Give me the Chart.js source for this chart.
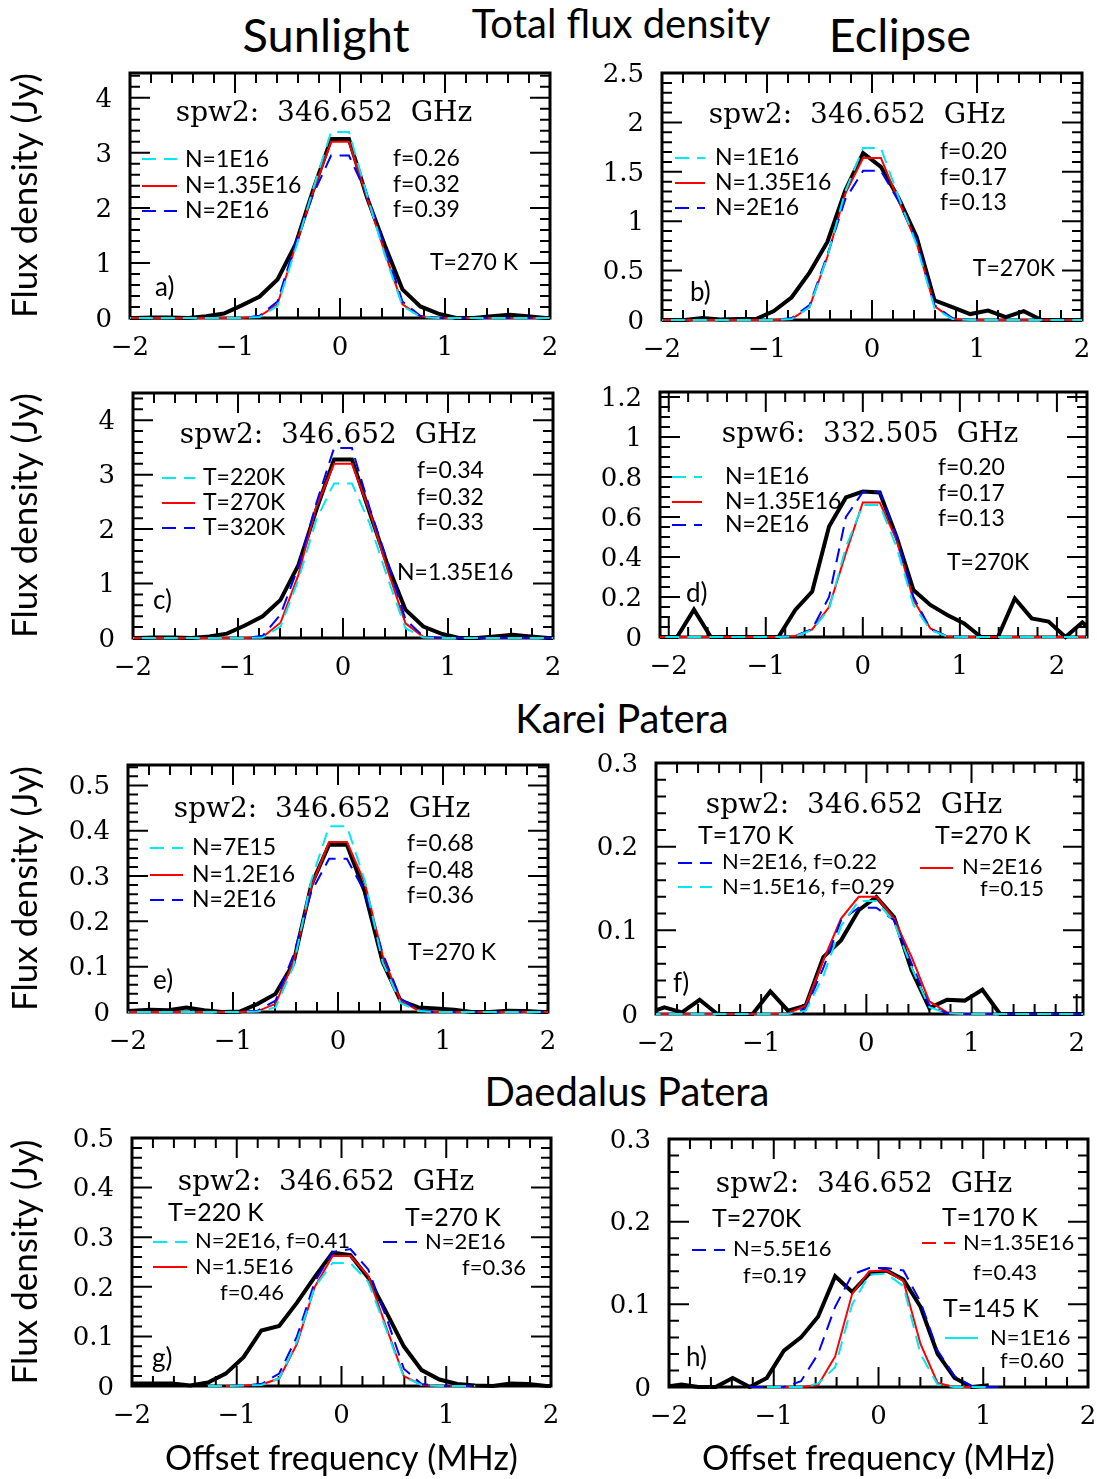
<!DOCTYPE html>
<html>
<head>
<meta charset="utf-8">
<title>Total flux density</title>
<script src="https://cdn.jsdelivr.net/npm/chart.js@4.4.1/dist/chart.umd.min.js"></script>
<style>
  html, body { margin: 0; padding: 0; background: #fff; }
  body { position: relative; width: 1097px; height: 1479px; overflow: hidden; font-family: Lato, "Noto Sans", sans-serif; }
  .head { position: absolute; transform: translate(-50%, -50%); white-space: nowrap; color: #000; line-height: 1; }
  canvas { position: absolute; }
</style>
</head>
<body>
<div class="head" style="left:326px;top:34px;font-size:47px">Sunlight</div>
<div class="head" style="left:621px;top:23px;font-size:40px">Total flux density</div>
<div class="head" style="left:900px;top:34px;font-size:47px">Eclipse</div>
<div class="head" style="left:622px;top:718px;font-size:40px">Karei Patera</div>
<div class="head" style="left:627px;top:1091px;font-size:40px">Daedalus Patera</div>
<script>
const gridHalf = [-2.125, -1.955, -1.785, -1.615, -1.445, -1.275, -1.105, -0.935, -0.765, -0.595, -0.425, -0.255, -0.085,
                  0.085, 0.255, 0.425, 0.595, 0.765, 0.935, 1.105, 1.275, 1.445, 1.615, 1.785, 1.955, 2.125];
const gridD = [-2.262, -2.088, -1.914, -1.74, -1.566, -1.392, -1.218, -1.044, -0.87, -0.696, -0.522, -0.348, -0.174, 0,
               0.174, 0.348, 0.522, 0.696, 0.87, 1.044, 1.218, 1.392, 1.566, 1.74, 1.914, 2.088, 2.262, 2.436];
const gridF = [-2.089, -1.921, -1.753, -1.585, -1.417, -1.249, -1.081, -0.913, -0.745, -0.577, -0.409, -0.241, -0.073,
               0.095, 0.263, 0.431, 0.599, 0.767, 0.935, 1.103, 1.271, 1.439, 1.607, 1.775, 1.943, 2.111];
const gridH = [-2.044, -1.881, -1.718, -1.555, -1.392, -1.229, -1.066, -0.903, -0.74, -0.577, -0.414, -0.251, -0.088,
               0.075, 0.238, 0.401, 0.564, 0.727, 0.89, 1.053, 1.216];

// a) sunlight, spw2
const aBlack = [0, 0, 0.01, 0.01, 0, 0.03, 0.08, 0.23, 0.39, 0.70, 1.33, 2.33, 3.25, 3.25, 2.20, 1.33, 0.52, 0.21, 0.08, 0, 0, 0.03, 0.06, 0.03, 0, 0];
const aRed   = [0, 0, 0, 0, 0, 0, 0, 0, 0.03, 0.25, 1.30, 2.30, 3.20, 3.20, 2.20, 1.20, 0.25, 0.03, 0, 0, 0, 0, 0, 0, 0, 0];
const aCyan  = [0, 0, 0, 0, 0, 0, 0, 0, 0.02, 0.22, 1.25, 2.35, 3.38, 3.38, 2.25, 1.15, 0.22, 0.02, 0, 0, 0, 0, 0, 0, 0, 0];
const aBlue  = [0, 0, 0, 0, 0, 0, 0, 0, 0.04, 0.30, 1.35, 2.25, 2.95, 2.95, 2.25, 1.30, 0.30, 0.04, 0, 0, 0, 0, 0, 0, 0, 0];

// b) eclipse, spw2
const bBlack = [0, 0, 0, 0.02, 0.005, 0.01, 0.01, 0.09, 0.23, 0.48, 0.79, 1.31, 1.69, 1.55, 1.23, 0.84, 0.20, 0.13, 0.06, 0.095, 0.03, 0.09, 0, 0, 0, 0];
const bRed   = [0, 0, 0, 0, 0, 0, 0, 0, 0.01, 0.13, 0.64, 1.28, 1.64, 1.64, 1.20, 0.78, 0.14, 0.01, 0, 0, 0, 0, 0, 0, 0, 0];
const bCyan  = [0, 0, 0, 0, 0, 0, 0, 0, 0.01, 0.13, 0.64, 1.30, 1.74, 1.74, 1.24, 0.76, 0.12, 0.01, 0, 0, 0, 0, 0, 0, 0, 0];
const bBlue  = [0, 0, 0, 0, 0, 0, 0, 0, 0.02, 0.15, 0.66, 1.22, 1.51, 1.51, 1.20, 0.80, 0.15, 0.02, 0, 0, 0, 0, 0, 0, 0, 0];

// c) sunlight, spw2, temperature runs
const cBlack = [0, 0, 0.01, 0.01, 0, 0.03, 0.08, 0.23, 0.40, 0.70, 1.34, 2.35, 3.28, 3.28, 2.30, 1.34, 0.52, 0.21, 0.08, 0, 0, 0.03, 0.06, 0.03, 0, 0];
const cRed   = [0, 0, 0, 0, 0, 0, 0, 0, 0.02, 0.28, 1.16, 2.41, 3.20, 3.20, 2.32, 1.25, 0.27, 0.02, 0, 0, 0, 0, 0, 0, 0, 0];
const cCyan  = [0, 0, 0, 0, 0, 0, 0, 0, 0.01, 0.21, 1.07, 2.17, 2.84, 2.84, 2.10, 1.10, 0.18, 0.01, 0, 0, 0, 0, 0, 0, 0, 0];
const cBlue  = [0, 0, 0, 0, 0, 0, 0, 0, 0.04, 0.43, 1.31, 2.47, 3.49, 3.49, 2.38, 1.40, 0.34, 0.03, 0, 0, 0, 0, 0, 0, 0, 0];

// d) eclipse, spw6
const dBlack = [0, 0, 0, 0.137, 0, 0, 0, 0, 0, 0.135, 0.227, 0.552, 0.698, 0.727, 0.723, 0.50, 0.235, 0.16, 0.11, 0.068, 0, 0, 0.193, 0.093, 0.077, 0, 0.073, 0];
const dRed   = [0, 0, 0, 0, 0, 0, 0, 0, 0, 0.005, 0.038, 0.15, 0.42, 0.673, 0.673, 0.485, 0.185, 0.043, 0.003, 0, 0, 0, 0, 0, 0, 0, 0, 0];
const dCyan  = [0, 0, 0, 0, 0, 0, 0, 0, 0, 0.004, 0.035, 0.14, 0.45, 0.66, 0.66, 0.45, 0.16, 0.035, 0.003, 0, 0, 0, 0, 0, 0, 0, 0, 0];
const dBlue  = [0, 0, 0, 0, 0, 0, 0, 0, 0, 0.005, 0.04, 0.20, 0.60, 0.725, 0.725, 0.50, 0.20, 0.04, 0.003, 0, 0, 0, 0, 0, 0, 0, 0, 0];

// e) Karei Patera, sunlight
const eBlack = [0, 0.003, 0.005, 0.004, 0.01, 0.004, 0, 0.001, 0.018, 0.04, 0.107, 0.28, 0.369, 0.369, 0.265, 0.11, 0.025, 0.01, 0.008, 0.005, 0, 0, 0.003, 0.002, 0, 0];
const eRed   = [0, 0, 0, 0, 0, 0, 0, 0, 0.002, 0.018, 0.11, 0.276, 0.375, 0.375, 0.285, 0.125, 0.025, 0.003, 0, 0, 0, 0, 0, 0, 0, 0];
const eCyan  = [0, 0, 0, 0, 0, 0, 0, 0, 0.001, 0.01, 0.10, 0.29, 0.41, 0.41, 0.29, 0.11, 0.02, 0.002, 0, 0, 0, 0, 0, 0, 0, 0];
const eBlue  = [0, 0, 0, 0, 0, 0, 0, 0, 0.003, 0.025, 0.125, 0.265, 0.338, 0.338, 0.265, 0.13, 0.03, 0.004, 0, 0, 0, 0, 0, 0, 0, 0];

// f) Karei Patera, eclipse
const fBlack = [0, 0.008, 0.002, 0.017, 0, 0, 0, 0.027, 0.004, 0.01, 0.068, 0.088, 0.124, 0.14, 0.116, 0.052, 0.007, 0.017, 0.016, 0.029, 0, 0, 0, 0, 0, 0];
const fRed   = [0, 0, 0, 0, 0, 0, 0, 0, 0.001, 0.01, 0.064, 0.114, 0.14, 0.14, 0.114, 0.068, 0.015, 0.002, 0, 0, 0, 0, 0, 0, 0, 0];
const fCyan  = [0, 0, 0, 0, 0, 0, 0, 0, 0, 0.004, 0.045, 0.105, 0.135, 0.135, 0.11, 0.055, 0.008, 0.001, 0, 0, 0, 0, 0, 0, 0, 0];
const fBlue  = [0, 0, 0, 0, 0, 0, 0, 0, 0, 0.006, 0.055, 0.112, 0.127, 0.127, 0.112, 0.06, 0.01, 0.001, 0, 0, 0, 0, 0, 0, 0, 0];

// g) Daedalus Patera, sunlight
const gBlack = [0.005, 0.005, 0.005, 0.005, 0.001, 0.007, 0.025, 0.058, 0.112, 0.121, 0.168, 0.22, 0.269, 0.264, 0.218, 0.15, 0.08, 0.032, 0.013, 0.004, 0.001, 0, 0.005, 0.004, 0, 0];
const gRed   = [null, null, null, null, null, null, 0, 0.001, 0.003, 0.015, 0.085, 0.2, 0.262, 0.262, 0.222, 0.12, 0.02, 0.002, 0, 0, null, null, null, null, null, null];
const gCyan  = [null, null, null, null, null, 0, 0, 0.001, 0.002, 0.015, 0.09, 0.2, 0.248, 0.248, 0.21, 0.115, 0.018, 0.002, 0, 0, 0, null, null, null, null, null];
const gBlue  = [null, null, null, null, null, 0, 0, 0.001, 0.004, 0.025, 0.1, 0.21, 0.27, 0.276, 0.235, 0.14, 0.035, 0.004, 0, 0, 0, null, null, null, null, null];

// h) Daedalus Patera, eclipse
const hBlack = [0, 0.003, 0, 0, 0.011, 0, 0.011, 0.044, 0.06, 0.085, 0.134, 0.115, 0.137, 0.141, 0.13, 0.097, 0.04, 0.011, 0, 0.002, null];
const hBlue  = [null, null, null, null, null, 0, 0, 0, 0.007, 0.04, 0.097, 0.136, 0.144, 0.144, 0.141, 0.103, 0.044, 0.013, 0.001, 0, 0];
const hRed   = [null, null, null, null, null, null, null, 0, 0, 0.002, 0.037, 0.113, 0.14, 0.141, 0.128, 0.052, 0.005, 0, 0, null, null];
const hCyan  = [null, null, null, null, null, null, 0, 0, 0, 0.004, 0.024, 0.1, 0.136, 0.137, 0.122, 0.04, 0.003, 0, 0, 0, null];

const COLORS = { black: '#000000', red: '#ff0000', blue: '#0000ff', cyan: '#00e8f0' };
const DASH = [14, 8];
const SERIF = 'DejaVu Serif';
const SANS = 'Lato';

// text and legend keys, in page pixels
const notesA = [
  ['head', 324, 111, 'spw2:  346.652  GHz'],
  ['key', 142, 177, 159, 'cyan', true], ['txt', 185, 159, 'N=1E16'],
  ['key', 142, 177, 186, 'red', false], ['txt', 185, 185, 'N=1.35E16'],
  ['key', 142, 177, 211, 'blue', true], ['txt', 185, 210, 'N=2E16'],
  ['txt', 393, 158, 'f=0.26'], ['txt', 393, 184, 'f=0.32'], ['txt', 393, 209, 'f=0.39'],
  ['txt', 518, 262, 'T=270 K', 23, 'right'],
  ['txt', 155, 287, 'a)', 26]
];
const notesB = [
  ['head', 857, 113, 'spw2:  346.652  GHz'],
  ['key', 675, 705, 158, 'cyan', true], ['txt', 715, 157, 'N=1E16'],
  ['key', 675, 705, 183, 'red', false], ['txt', 715, 182, 'N=1.35E16'],
  ['key', 675, 705, 208, 'blue', true], ['txt', 715, 207, 'N=2E16'],
  ['txt', 940, 151, 'f=0.20'], ['txt', 940, 177, 'f=0.17'], ['txt', 940, 202, 'f=0.13'],
  ['txt', 1055, 268, 'T=270K', 23, 'right'],
  ['txt', 690, 292, 'b)', 26]
];
const notesC = [
  ['head', 328, 433, 'spw2:  346.652  GHz'],
  ['key', 162, 195, 478, 'cyan', true], ['txt', 203, 477, 'T=220K'],
  ['key', 162, 195, 503, 'red', false], ['txt', 203, 502, 'T=270K'],
  ['key', 162, 195, 528, 'blue', true], ['txt', 203, 527, 'T=320K'],
  ['txt', 417, 470, 'f=0.34'], ['txt', 417, 497, 'f=0.32'], ['txt', 417, 522, 'f=0.33'],
  ['txt', 397, 572, 'N=1.35E16'],
  ['txt', 153, 600, 'c)', 26]
];
const notesD = [
  ['head', 870, 432, 'spw6:  332.505  GHz'],
  ['key', 672, 702, 477, 'cyan', true], ['txt', 725, 476, 'N=1E16'],
  ['key', 672, 702, 502, 'red', false], ['txt', 725, 501, 'N=1.35E16'],
  ['key', 672, 702, 525, 'blue', true], ['txt', 725, 524, 'N=2E16'],
  ['txt', 938, 467, 'f=0.20'], ['txt', 938, 493, 'f=0.17'], ['txt', 938, 518, 'f=0.13'],
  ['txt', 947, 562, 'T=270K'],
  ['txt', 686, 593, 'd)', 26]
];
const notesE = [
  ['head', 322, 807, 'spw2:  346.652  GHz'],
  ['key', 150, 183, 848, 'cyan', true], ['txt', 192, 847, 'N=7E15'],
  ['key', 150, 183, 875, 'red', false], ['txt', 192, 874, 'N=1.2E16'],
  ['key', 150, 183, 900, 'blue', true], ['txt', 192, 899, 'N=2E16'],
  ['txt', 407, 843, 'f=0.68'], ['txt', 407, 870, 'f=0.48'], ['txt', 407, 895, 'f=0.36'],
  ['txt', 408, 952, 'T=270 K'],
  ['txt', 153, 980, 'e)', 26]
];
const notesF = [
  ['head', 854, 803, 'spw2:  346.652  GHz'],
  ['txt', 698, 835, 'T=170 K', 25], ['txt', 935, 835, 'T=270 K', 25],
  ['key', 678, 712, 863, 'blue', true], ['txt', 722, 861, 'N=2E16, f=0.22', 22],
  ['key', 678, 712, 887, 'cyan', true], ['txt', 722, 886, 'N=1.5E16, f=0.29', 22],
  ['key', 920, 953, 868, 'red', false], ['txt', 962, 866, 'N=2E16', 22],
  ['txt', 980, 888, 'f=0.15', 22],
  ['txt', 673, 983, 'f)', 26]
];
const notesG = [
  ['head', 326, 1180, 'spw2:  346.652  GHz'],
  ['txt', 168, 1212, 'T=220 K', 25], ['txt', 405, 1217, 'T=270 K', 25],
  ['key', 153, 187, 1242, 'cyan', true], ['txt', 195, 1240, 'N=2E16, f=0.41', 22],
  ['key', 153, 187, 1267, 'red', false], ['txt', 195, 1266, 'N=1.5E16', 22],
  ['txt', 220, 1292, 'f=0.46', 22],
  ['key', 383, 417, 1242, 'blue', true], ['txt', 425, 1241, 'N=2E16', 22],
  ['txt', 462, 1267, 'f=0.36', 22],
  ['txt', 152, 1358, 'g)', 26]
];
const notesH = [
  ['head', 864, 1182, 'spw2:  346.652  GHz'],
  ['txt', 712, 1218, 'T=270K', 25],
  ['key', 692, 725, 1250, 'blue', true], ['txt', 733, 1248, 'N=5.5E16', 22],
  ['txt', 743, 1275, 'f=0.19', 22],
  ['txt', 942, 1217, 'T=170 K', 25],
  ['key', 922, 955, 1243, 'red', true], ['txt', 963, 1242, 'N=1.35E16', 22],
  ['txt', 973, 1272, 'f=0.43', 22],
  ['txt', 943, 1308, 'T=145 K', 25],
  ['key', 945, 978, 1338, 'cyan', false], ['txt', 990, 1337, 'N=1E16', 22],
  ['txt', 1000, 1360, 'f=0.60', 22],
  ['txt', 686, 1357, 'h)', 26]
];

const panels = [
  { box: [130, 73, 550, 318], xr: [-2, 2], yr: [0, 4.45], yMajor: 1, yMinor: 0.2, xs: gridHalf, left: true,
    lines: [['cyan', aCyan, true], ['blue', aBlue, true], ['red', aRed, false], ['black', aBlack, false]], notes: notesA },
  { box: [662, 73, 1082, 320], xr: [-2, 2], yr: [0, 2.5], yMajor: 0.5, yMinor: 0.1, xs: gridHalf, left: false,
    lines: [['cyan', bCyan, true], ['blue', bBlue, true], ['red', bRed, false], ['black', bBlack, false]], notes: notesB },
  { box: [133, 393, 553, 638], xr: [-2, 2], yr: [0, 4.5], yMajor: 1, yMinor: 0.2, xs: gridHalf, left: true,
    lines: [['cyan', cCyan, true], ['blue', cBlue, true], ['red', cRed, false], ['black', cBlack, false]], notes: notesC },
  { box: [660, 392, 1087, 637], xr: [-2.09, 2.31], yr: [0, 1.225], yMajor: 0.2, yMinor: 0.05, xs: gridD, left: false,
    lines: [['cyan', dCyan, true], ['blue', dBlue, true], ['red', dRed, false], ['black', dBlack, false]], notes: notesD },
  { box: [128, 765, 548, 1012], xr: [-2, 2], yr: [0, 0.545], yMajor: 0.1, yMinor: 0.02, xs: gridHalf, left: true,
    lines: [['cyan', eCyan, true], ['blue', eBlue, true], ['red', eRed, false], ['black', eBlack, false]], notes: notesE },
  { box: [656, 763, 1083, 1014], xr: [-2, 2.06], yr: [0, 0.3], yMajor: 0.1, yMinor: 0.02, xs: gridF, left: false,
    lines: [['cyan', fCyan, true], ['blue', fBlue, true], ['red', fRed, false], ['black', fBlack, false]], notes: notesF },
  { box: [132, 1138, 551, 1386], xr: [-2, 2], yr: [0, 0.5], yMajor: 0.1, yMinor: 0.02, xs: gridHalf, left: true,
    lines: [['cyan', gCyan, true], ['blue', gBlue, true], ['red', gRed, false], ['black', gBlack, false]], notes: notesG },
  { box: [669, 1139, 1088, 1387], xr: [-2, 2], yr: [0, 0.3], yMajor: 0.1, yMinor: 0.02, xs: gridH, left: false,
    lines: [['cyan', hCyan, true], ['blue', hBlue, true], ['red', hRed, false], ['black', hBlack, false]], notes: notesH }
];

function fmtTick(v) {
  return String(Math.round(v * 1000) / 1000).replace('-', '\u2212');
}

// IDL-style frame: box plus inward ticks on all four sides
function makeFrame(p) {
  return {
    id: 'frame',
    beforeDatasetsDraw(chart) {
      const { ctx, chartArea: a, scales: { x, y } } = chart;
      const marks = (scale, major, minor, fn) => {
        const n0 = Math.ceil(scale.min / minor - 1e-6), n1 = Math.floor(scale.max / minor + 1e-6);
        for (let n = n0; n <= n1; n++) {
          const v = n * minor;
          const isMajor = Math.abs(v / major - Math.round(v / major)) < 1e-6;
          fn(scale.getPixelForValue(v), isMajor ? 20 : 10);
        }
      };
      ctx.save();
      ctx.strokeStyle = '#000';
      ctx.lineWidth = 2;
      ctx.beginPath();
      marks(x, 1, 0.2, (px, len) => {
        ctx.moveTo(px, a.bottom); ctx.lineTo(px, a.bottom - len);
        ctx.moveTo(px, a.top); ctx.lineTo(px, a.top + len);
      });
      marks(y, p.yMajor, p.yMinor, (py, len) => {
        ctx.moveTo(a.left, py); ctx.lineTo(a.left + len, py);
        ctx.moveTo(a.right, py); ctx.lineTo(a.right - len, py);
      });
      ctx.stroke();
      ctx.lineWidth = 3;
      ctx.strokeRect(a.left, a.top, a.right - a.left, a.bottom - a.top);
      ctx.restore();
    }
  };
}

function makeNotes(p, ox, oy) {
  return {
    id: 'notes',
    afterDraw(chart) {
      const ctx = chart.ctx;
      ctx.save();
      ctx.fillStyle = '#000';
      ctx.textBaseline = 'alphabetic';
      p.notes.forEach(n => {
        if (n[0] === 'head') {
          ctx.font = '28px "' + SERIF + '"';
          ctx.textAlign = 'center';
          ctx.fillText(n[3], n[1] - ox, n[2] - oy + 10);
        } else if (n[0] === 'txt') {
          const size = n[4] || 23;
          ctx.font = size + 'px ' + SANS;
          ctx.textAlign = n[5] || 'left';
          ctx.fillText(n[3], n[1] - ox, n[2] - oy + size * 0.36);
        } else if (n[0] === 'key') {
          ctx.strokeStyle = COLORS[n[4]];
          ctx.lineWidth = 2;
          ctx.setLineDash(n[5] ? DASH : []);
          ctx.beginPath();
          ctx.moveTo(n[1] - ox, n[3] - oy);
          ctx.lineTo(n[2] - ox, n[3] - oy);
          ctx.stroke();
          ctx.setLineDash([]);
        }
      });
      ctx.restore();
    }
  };
}

const PAGE_H = 1479;
const PAD_TOP = 40;
const PAD_RIGHT = 30;

panels.forEach((p, k) => {
  const [L, T, R, B] = p.box;
  const bottomRow = k >= 6;
  const cx = p.left ? 0 : L - 80;
  const cy = T - PAD_TOP;
  const cw = R + PAD_RIGHT - cx;
  const ch = (bottomRow ? PAGE_H : B + 56) - cy;
  const canvas = document.createElement('canvas');
  canvas.width = cw;
  canvas.height = ch;
  canvas.style.left = cx + 'px';
  canvas.style.top = cy + 'px';
  canvas.style.width = cw + 'px';
  canvas.style.height = ch + 'px';
  document.body.appendChild(canvas);

  const datasets = p.lines.map(([name, ys, dashed]) => ({
    label: name,
    data: p.xs.map((x, i) => ({ x, y: ys[i] })),
    borderColor: COLORS[name],
    borderWidth: name === 'black' ? 4 : 2,
    borderDash: dashed ? DASH : [],
    pointRadius: 0,
    tension: 0,
    spanGaps: false,
    clip: { left: 0, right: 0, top: 0, bottom: 3 }
  }));

  new Chart(canvas, {
    type: 'line',
    data: { datasets },
    options: {
      responsive: false,
      devicePixelRatio: 1,
      animation: false,
      events: [],
      layout: { padding: { left: 0, top: PAD_TOP, right: PAD_RIGHT, bottom: 0 } },
      plugins: { legend: { display: false }, tooltip: { enabled: false } },
      scales: {
        x: {
          type: 'linear', min: p.xr[0], max: p.xr[1],
          afterFit: s => { s.height = cy + ch - B; },
          grid: { display: false, drawTicks: false },
          border: { display: false },
          ticks: { stepSize: 1, includeBounds: false, autoSkip: false, maxRotation: 0, padding: 15,
                   color: '#000', font: { family: SERIF, size: 26 }, callback: v => fmtTick(v) },
          title: { display: bottomRow, text: 'Offset frequency (MHz)', color: '#000',
                   font: { family: SANS, size: 34 }, padding: { top: 0, bottom: 0 } }
        },
        y: {
          type: 'linear', min: p.yr[0], max: p.yr[1],
          afterFit: s => { s.width = L - cx; },
          grid: { display: false, drawTicks: false },
          border: { display: false },
          ticks: { stepSize: p.yMajor, includeBounds: false, autoSkip: false, padding: 18, labelOffset: 2,
                   color: '#000', font: { family: SERIF, size: 26 }, callback: v => fmtTick(v) },
          title: { display: p.left, text: 'Flux density (Jy)', color: '#000',
                   font: { family: SANS, size: 35 }, padding: { top: 5, bottom: 0 } }
        }
      }
    },
    plugins: [makeFrame(p), makeNotes(p, cx, cy)]
  });
});
</script>
</body>
</html>
